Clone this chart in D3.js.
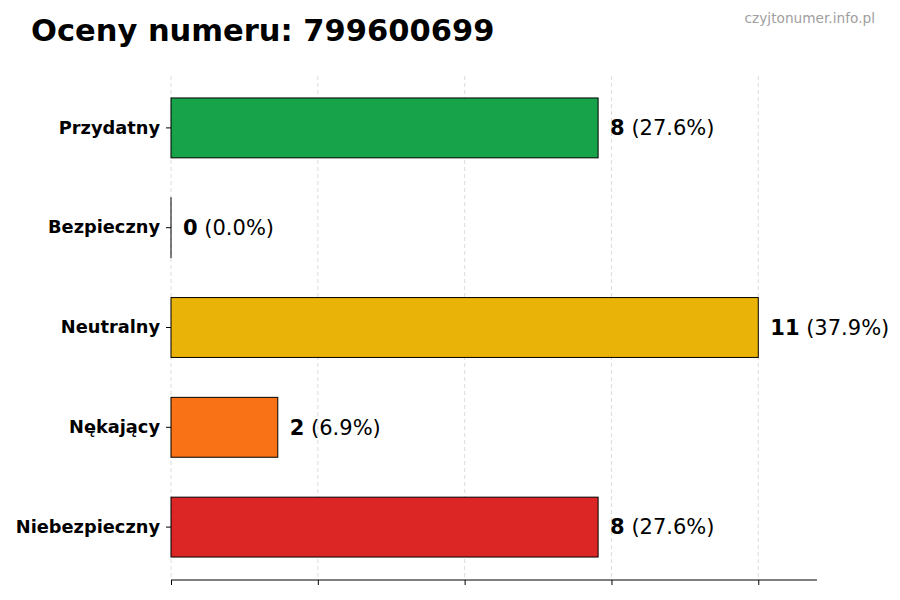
<!DOCTYPE html>
<html>
<head>
<meta charset="utf-8">
<script src="https://cdn.jsdelivr.net/npm/d3@7"></script>
<style>
  body { margin: 0; background: #fff; }
  svg { font-family: "DejaVu Sans", sans-serif; }
</style>
</head>
<body>
<div id="chart"></div>
<script>
// Data
const categories = ["Przydatny", "Bezpieczny", "Neutralny", "Nękający", "Niebezpieczny"];
const counts = [8, 0, 11, 2, 8];
const percents = ["27.6%", "0.0%", "37.9%", "6.9%", "27.6%"];
const barColors = ["#17a34a", "#e5e7eb", "#eab308", "#f97316", "#dc2626"];
const xTicks = [0, 2.75, 5.5, 8.25, 11];

const width = 900, height = 600;
const margin = { top: 76, right: 83, bottom: 20, left: 171 };

const svg = d3.select('#chart')
    .append('svg')
    .attr('width', width)
    .attr('height', height);

const maxVal = d3.max(counts);

const x = d3.scaleLinear()
    .domain([0, maxVal * 1.1])
    .range([margin.left, width - margin.right]);

const y = d3.scaleBand()
    .domain(categories)
    .range([78, 577])
    .paddingInner(0.4)
    .paddingOuter(0.2);

// Grid lines
svg.append('g')
    .selectAll('line')
    .data(xTicks)
    .join('line')
    .attr('x1', d => x(d))
    .attr('x2', d => x(d))
    .attr('y1', margin.top)
    .attr('y2', height - margin.bottom)
    .attr('stroke', '#d4d4d4')
    .attr('stroke-width', 0.8)
    .attr('stroke-dasharray', '4,3');

// Bars (zero-length bar still shows its outline)
svg.append('g')
    .selectAll('rect')
    .data(categories)
    .join('rect')
    .attr('x', x(0))
    .attr('y', d => y(d))
    .attr('width', (d, i) => (x(counts[i]) - x(0)) || 0.01)
    .attr('height', y.bandwidth())
    .attr('fill', (d, i) => barColors[i])
    .attr('stroke', '#000')
    .attr('stroke-width', 1);

// Value labels
const labels = svg.append('g')
    .selectAll('text')
    .data(categories)
    .join('text')
    .attr('x', (d, i) => x(counts[i]) + 12)
    .attr('y', d => y(d) + y.bandwidth() / 2)
    .attr('dy', '0.35em')
    .attr('font-size', 21)
    .attr('fill', '#000');

labels.append('tspan')
    .attr('font-weight', 'bold')
    .text((d, i) => counts[i]);
labels.append('tspan')
    .text((d, i) => ` (${percents[i]})`);

// Y axis (ticks + labels, no spine)
const yAxis = svg.append('g')
    .attr('transform', `translate(${margin.left},0)`)
    .call(d3.axisLeft(y).tickSize(5).tickPadding(6));
yAxis.select('.domain').remove();
yAxis.selectAll('text')
    .attr('font-size', 17.8)
    .attr('font-weight', 'bold')
    .attr('font-family', '"DejaVu Sans", sans-serif')
    .attr('fill', '#000');

// X axis (spine + ticks, no labels)
const xAxis = svg.append('g')
    .attr('transform', `translate(0,${height - margin.bottom})`)
    .call(d3.axisBottom(x).tickValues(xTicks).tickSize(5).tickFormat(''));
xAxis.select('.domain').attr('d', `M${x(0)},0H${x(maxVal * 1.1)}`);

// Title
svg.append('text')
    .attr('x', 31)
    .attr('y', 41)
    .attr('font-size', 30.5)
    .attr('font-weight', 'bold')
    .attr('fill', '#000')
    .text('Oceny numeru: 799600699');

// Watermark
svg.append('text')
    .attr('x', 875)
    .attr('y', 23)
    .attr('text-anchor', 'end')
    .attr('font-size', 13.7)
    .attr('fill', '#a0a0a0')
    .text('czyjtonumer.info.pl');
</script>
</body>
</html>
